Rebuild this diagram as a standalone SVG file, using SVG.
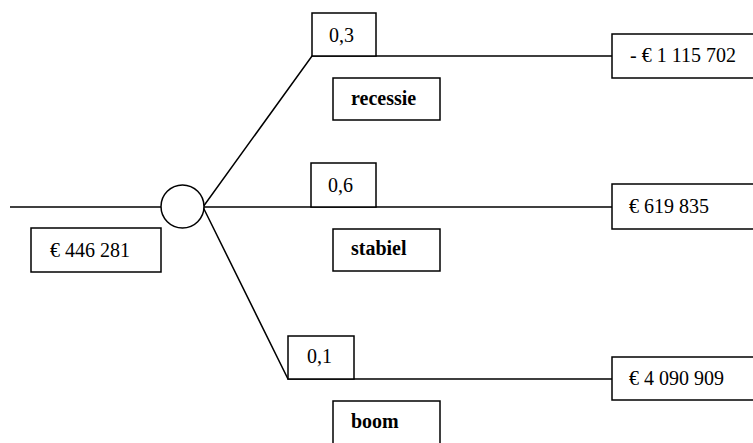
<svg xmlns="http://www.w3.org/2000/svg" width="753" height="443" viewBox="0 0 753 443">
  <style>
    .ln { stroke: #000; stroke-width: 1.5; fill: none; }
    .bx { stroke: #000; stroke-width: 1.5; fill: #fff; }
    .t { font-family: "Liberation Serif", "Times New Roman", serif; font-size: 20px; fill: #000; }
    .b { font-weight: bold; }
  </style>
  <rect width="753" height="443" fill="#fff"/>

  <!-- branches of the decision tree -->
  <g id="connectors">
    <line class="ln" x1="10" y1="207" x2="161" y2="207"/>
    <line class="ln" x1="204" y1="207" x2="612" y2="207"/>
    <polyline class="ln" points="203,207 312,56 612,56"/>
    <polyline class="ln" points="203,207 288,379 612,379"/>
  </g>

  <!-- chance node -->
  <g id="chance-node">
    <circle class="bx" cx="182.5" cy="206.5" r="21.5"/>
  </g>

  <g id="expected-value">
    <rect class="bx" x="31" y="228" width="130" height="44"/>
    <text class="t" x="50" y="257">€ 446 281</text>
  </g>

  <!-- probabilities -->
  <g id="p-recessie">
    <rect class="bx" x="312" y="13" width="64" height="43"/>
    <text class="t" x="329" y="42">0,3</text>
  </g>
  <g id="p-stabiel">
    <rect class="bx" x="311" y="163" width="65" height="44"/>
    <text class="t" x="328" y="192">0,6</text>
  </g>
  <g id="p-boom">
    <rect class="bx" x="288" y="336" width="66" height="43"/>
    <text class="t" x="307" y="363">0,1</text>
  </g>

  <!-- scenario labels -->
  <g id="lbl-recessie">
    <rect class="bx" x="333" y="78" width="107" height="42"/>
    <text class="t b" x="351" y="105">recessie</text>
  </g>
  <g id="lbl-stabiel">
    <rect class="bx" x="333" y="229" width="107" height="42"/>
    <text class="t b" x="351" y="255">stabiel</text>
  </g>
  <g id="lbl-boom">
    <rect class="bx" x="333" y="401" width="107" height="50"/>
    <text class="t b" x="351" y="428">boom</text>
  </g>

  <!-- outcomes -->
  <g id="out-recessie">
    <rect class="bx" x="612" y="34" width="150" height="44"/>
    <text class="t" x="630" y="62">- € 1 115 702</text>
  </g>
  <g id="out-stabiel">
    <rect class="bx" x="612" y="184" width="150" height="45"/>
    <text class="t" x="629" y="213">€ 619 835</text>
  </g>
  <g id="out-boom">
    <rect class="bx" x="612" y="357" width="150" height="43"/>
    <text class="t" x="629" y="385">€ 4 090 909</text>
  </g>
</svg>
